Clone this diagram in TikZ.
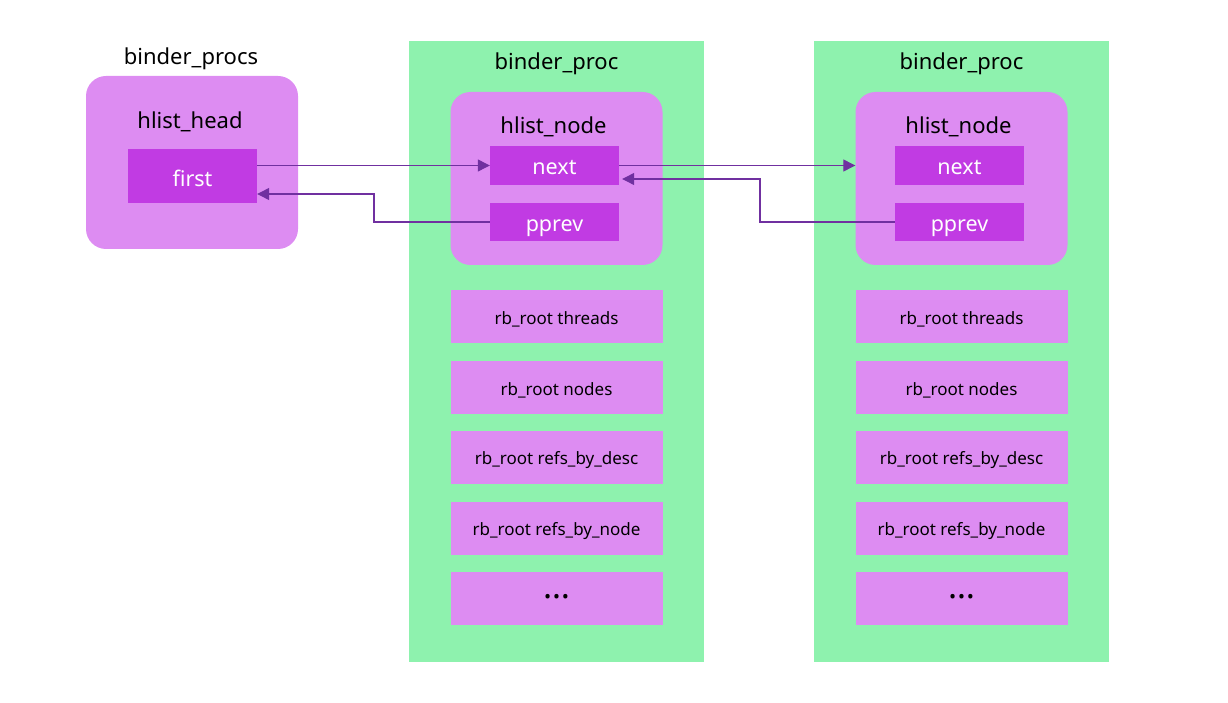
\documentclass[tikz,border=0pt]{standalone}
\usepackage{fontspec}
\setmainfont{Noto Sans}
\usetikzlibrary{arrows.meta}

\definecolor{procgreen}{RGB}{142,242,174}
\definecolor{lightpurple}{RGB}{221,140,242}
\definecolor{darkpurple}{RGB}{193,59,227}
\definecolor{linkpurple}{RGB}{112,48,160}

\newcommand{\down}[2][2.5pt]{\raisebox{-#1}[\height][\depth]{#2}}

\tikzset{
	container/.style={fill=procgreen, minimum width=295pt, minimum height=621pt, inner sep=0pt},
	headbox/.style={fill=lightpurple, rounded corners=20pt, minimum width=212pt, minimum height=173pt, inner sep=0pt},
	field/.style={fill=darkpurple, text=white, minimum width=129pt, minimum height=39pt, inner sep=0pt, font=\fontsize{21.5}{24}\selectfont},
	member/.style={fill=lightpurple, minimum width=212pt, minimum height=53pt, inner sep=0pt, font=\fontsize{17}{20}\selectfont},
	title/.style={font=\fontsize{22}{25}\selectfont},
	link/.style={draw=linkpurple, line width=1.2pt, -{Triangle[length=12pt,width=12pt]}}
}

\begin{document}
\begin{tikzpicture}[x=1pt,y=-1pt]
\useasboundingbox (0,0) rectangle (1228,703);

% binder_procs
\node[title] (procs) at (191,59) {binder\_procs};
\node[headbox] (head) at (192,162.5) {};
\node[title] (headlabel) at (190,121.5) {hlist\_head};
\node[field, minimum height=54pt] (first) at (192.5,176) {\down{first}};

% binder_proc
\foreach \p/\x in {A/556.5, B/961.5}
{
	\node[container] (proc\p) at (\x,351.5) {};
	\node[title] (proclabel\p) at (\x,64) {binder\_proc};
	\node[headbox] (node\p) at (\x,178.5) {};
	\node[title] (nodelabel\p) at ([xshift=-3pt]\x,126.5) {hlist\_node};
	\node[field] (next\p) at ([xshift=-2pt]\x,165.5) {\down{next}};
	\node[field, minimum height=38pt] (pprev\p) at ([xshift=-2pt]\x,222) {\down[6.5pt]{pprev}};
	\foreach \i/\y/\label in {1/316.5/rb\_root threads, 2/387.5/rb\_root nodes,
				3/457.5/rb\_root refs\_by\_desc, 4/528.5/rb\_root refs\_by\_node}
	{
		\node[member] (member\p\i) at (\x,\y) {\down{\label}};
	};
	\node[member, font=\fontsize{34}{36}\bfseries] (member\p5) at (\x,598.5) {\raisebox{5pt}{\ldots}};
};

% links
\coordinate (backA) at (374,194);
\coordinate (backB) at (760,179);
\draw[link] (first.east |- nextA.west) -- (nextA.west);
\draw[link] (pprevA.west) -| (backA) -- (backA -| first.east);
\draw[link] (nextA.east) -- (nextA.east -| nodeB.west);
\draw[link, shorten >=3pt] (pprevB.west) -| (backB) -- (backB -| nextA.east);
\end{tikzpicture}
\end{document}
